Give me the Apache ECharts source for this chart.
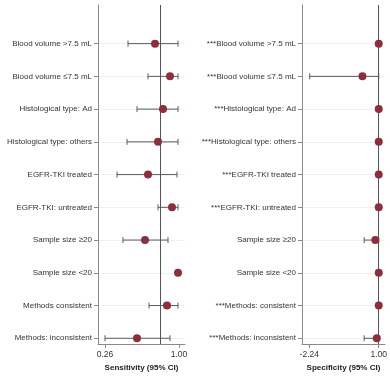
<!DOCTYPE html>
<html><head><meta charset="utf-8">
<script src="https://cdn.jsdelivr.net/npm/echarts@6/dist/echarts.min.js"></script>
<style>html,body{margin:0;padding:0;background:#fff}#c{width:390px;height:380px}</style>
</head><body><div id="c"></div>
<script>
const sensLabels = ['Blood volume >7.5 mL','Blood volume ≤7.5 mL','Histological type: Ad','Histological type: others','EGFR-TKI treated','EGFR-TKI: untreated','Sample size ≥20','Sample size <20','Methods consistent','Methods: inconsistent'];
const specLabels = ['***Blood volume >7.5 mL','***Blood volume ≤7.5 mL','***Histological type: Ad','***Histological type: others','***EGFR-TKI treated','***EGFR-TKI: untreated','Sample size ≥20','Sample size <20','***Methods: consistent','***Methods: inconsistent'];
const sensEst  = [0.76, 0.91, 0.84, 0.79, 0.69, 0.93, 0.66, 0.99, 0.88, 0.58];
const sensLow  = [0.49, 0.69, 0.58, 0.48, 0.38, 0.79, 0.44, 0.99, 0.70, 0.26];
const sensHigh = [0.99, 0.99, 0.99, 0.99, 0.98, 0.99, 0.89, 0.99, 0.99, 0.91];
const specEst  = [1.00, 0.24, 1.00, 1.00, 1.00, 1.00, 0.84, 1.00, 1.00, 0.91];
const specLow  = [1.00, -2.22, 1.00, 1.00, 1.00, 1.00, 0.32, 1.00, 1.00, 0.32];
const specHigh = [1.00, 1.00, 1.00, 1.00, 1.00, 1.00, 1.00, 1.00, 1.00, 1.00];
const sensTicks = [0.26, 1.00];
const specTicks = [-2.24, 1.00];
const sensRef = 0.813;
const specRef = 0.99;

const rowIdx = sensLabels.map((_, i) => i);
const FONT = 'Liberation Sans';
const markerColor = '#8c2e3c';
const barColor = '#5a5a5a';

function xAxis(gi, min, max, ticks, name) {
  return {
    type: 'value', gridIndex: gi, min: min, max: max,
    axisLine: {show: true, onZero: false, lineStyle: {color: '#8a8a8a', width: 1}},
    axisTick: {show: true, length: 4, customValues: ticks, lineStyle: {color: '#8a8a8a'}},
    axisLabel: {customValues: ticks, margin: 6, fontSize: 8.5, color: '#333', fontFamily: FONT,
      formatter: v => v.toFixed(2)},
    splitLine: {show: false},
    name: name, nameLocation: 'middle', nameGap: 18,
    nameTextStyle: {fontSize: 8, fontWeight: 'bold', color: '#222', fontFamily: FONT}
  };
}
function yAxis(gi, labels) {
  return {
    type: 'value', gridIndex: gi, inverse: true, min: -1.18, max: 9.175,
    axisLine: {show: true, onZero: false, lineStyle: {color: '#8a8a8a', width: 1}},
    axisTick: {show: true, length: 4, customValues: rowIdx, lineStyle: {color: '#8a8a8a'}},
    axisLabel: {customValues: rowIdx, margin: 6, fontSize: 8, color: '#333', fontFamily: FONT,
      formatter: v => labels[Math.round(v)]},
    splitLine: {show: true, lineStyle: {color: '#eef1f4', width: 1}}
  };
}
function errSeries(gi, low, high) {
  return {
    type: 'custom', xAxisIndex: gi, yAxisIndex: gi, silent: true,
    data: low.map((l, i) => [l, high[i], i]),
    encode: {x: [0, 1], y: 2},
    renderItem: (params, api) => {
      const a = api.coord([api.value(0), api.value(2)]);
      const b = api.coord([api.value(1), api.value(2)]);
      const h = 3;
      const st = {stroke: barColor, lineWidth: 1};
      return {type: 'group', children: [
        {type: 'line', shape: {x1: a[0], y1: a[1], x2: b[0], y2: b[1]}, style: st},
        {type: 'line', shape: {x1: a[0], y1: a[1]-h, x2: a[0], y2: a[1]+h}, style: st},
        {type: 'line', shape: {x1: b[0], y1: b[1]-h, x2: b[0], y2: b[1]+h}, style: st}
      ]};
    },
    z: 3
  };
}
function pointSeries(gi, est, ref) {
  return {
    type: 'scatter', xAxisIndex: gi, yAxisIndex: gi, symbolSize: 8,
    itemStyle: {color: markerColor, opacity: 1},
    data: est.map((v, i) => [v, i]), z: 5,
    markLine: {silent: true, symbol: 'none', label: {show: false},
      lineStyle: {color: '#555', width: 1, type: 'solid'},
      data: [{xAxis: ref}], z: 4}
  };
}
const chart = echarts.init(document.getElementById('c'), null, {renderer: 'canvas'});
chart.setOption({
  animation: false,
  grid: [
    {left: 98, top: 5, width: 87, height: 339},
    {left: 302, top: 5, width: 83, height: 339}
  ],
  xAxis: [xAxis(0, 0.19, 1.06, sensTicks, 'Sensitivity (95% CI)'),
          xAxis(1, -2.58, 1.29, specTicks, 'Specificity (95% CI)')],
  yAxis: [yAxis(0, sensLabels), yAxis(1, specLabels)],
  series: [errSeries(0, sensLow, sensHigh), pointSeries(0, sensEst, sensRef),
           errSeries(1, specLow, specHigh), pointSeries(1, specEst, specRef)]
});
</script></body></html>
